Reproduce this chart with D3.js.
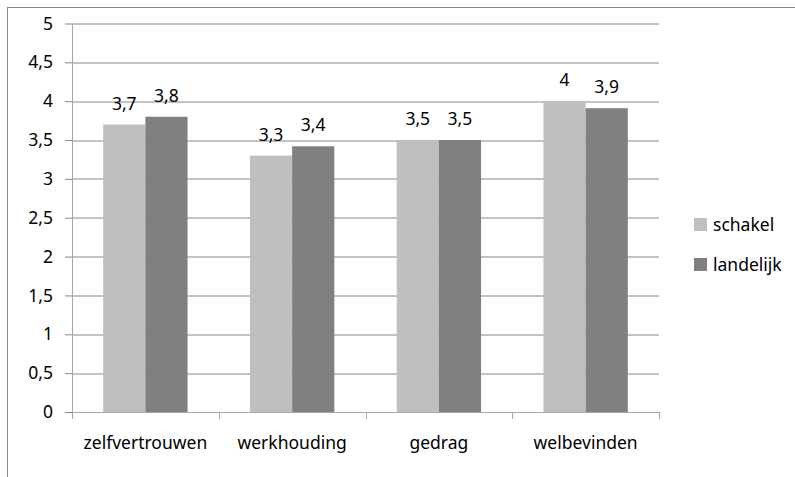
<!DOCTYPE html>
<html>
<head>
<meta charset="utf-8">
<script src="https://cdn.jsdelivr.net/npm/d3@7"></script>
<style>
  body { margin: 0; background: #fff; }
  text { font-family: "Noto Sans", "Open Sans", sans-serif; fill: #000; }
</style>
</head>
<body>
<script>
// data
var categories = ["zelfvertrouwen", "werkhouding", "gedrag", "welbevinden"];
var seriesNames = ["schakel", "landelijk"];
var schakel   = [3.7, 3.3, 3.5, 4.0];
var landelijk = [3.8, 3.42, 3.5, 3.91];
var yTicks = [0, 0.5, 1, 1.5, 2, 2.5, 3, 3.5, 4, 4.5, 5];
var colors = ["#bfbfbf", "#808080"];

var W = 795, H = 477;
var margin = {top: 23.5, left: 72, right: 136, bottom: 65};
var width = W - margin.left - margin.right,
    height = H - margin.top - margin.bottom;
var FS = "17.5px";

var fmt = function(v) { return d3.format(".1~f")(v).replace(".", ","); };

var svg = d3.select("body").append("svg")
    .attr("width", W)
    .attr("height", H);

// outer chart frame
svg.append("rect")
    .attr("x", 7.5).attr("y", 7.5)
    .attr("width", W + 10).attr("height", H + 10)
    .attr("fill", "none")
    .attr("stroke", "#868686");

var g = svg.append("g")
    .attr("transform", "translate(" + margin.left + "," + margin.top + ")");

var x0 = d3.scaleBand()
    .domain(categories)
    .range([0, width]);

var x1 = d3.scaleBand()
    .domain(seriesNames)
    .range([0, x0.bandwidth() * 0.575])
    .paddingInner(0);

var yScale = d3.scaleLinear()
    .domain([0, 5])
    .range([height, 0]);

// gridlines
g.append("g")
    .selectAll("line")
    .data(yTicks.filter(function(d) { return d > 0; }))
    .enter().append("line")
      .attr("x1", 0).attr("x2", width)
      .attr("y1", function(d) { return Math.round(yScale(d)) + 0.5; })
      .attr("y2", function(d) { return Math.round(yScale(d)) + 0.5; })
      .attr("stroke", "#868686");

// y axis
var yAxis = g.append("g")
    .call(d3.axisLeft(yScale).tickValues(yTicks).tickSize(7).tickSizeOuter(0).tickFormat(fmt));
yAxis.select(".domain").attr("stroke", "#a6a6a6");
yAxis.selectAll(".tick line").attr("stroke", "#868686");
yAxis.selectAll(".tick text")
    .attr("x", -19)
    .attr("fill", "#000")
    .style("font-size", FS)
    .style("font-family", "'Noto Sans', sans-serif");

// bars
var offset = (x0.bandwidth() - x1.range()[1]) / 2;
var groups = g.selectAll(".grp")
    .data(categories)
    .enter().append("g")
      .attr("class", "grp")
      .attr("transform", function(d) { return "translate(" + (x0(d) + offset) + ",0)"; });

var rows = function(i) {
  return [{s: "schakel", v: schakel[i]}, {s: "landelijk", v: landelijk[i]}];
};

groups.selectAll("rect")
    .data(function(d, i) { return rows(i); })
    .enter().append("rect")
      .attr("x", function(d) { return x1(d.s); })
      .attr("y", function(d) { return yScale(d.v); })
      .attr("width", x1.bandwidth())
      .attr("height", function(d) { return height - yScale(d.v); })
      .attr("fill", function(d, i) { return colors[i]; });

groups.selectAll(".val")
    .data(function(d, i) { return rows(i); })
    .enter().append("text")
      .attr("class", "val")
      .attr("x", function(d) { return x1(d.s) + x1.bandwidth() / 2; })
      .attr("y", function(d) { return yScale(d.v) - 15; })
      .attr("text-anchor", "middle")
      .style("font-size", FS)
      .text(function(d) { return fmt(Math.round(d.v * 10) / 10); });

// x axis
var xAxis = g.append("g")
    .attr("transform", "translate(0," + height + ")")
    .call(d3.axisBottom(x0).tickSize(0).tickSizeOuter(0));
xAxis.select(".domain").attr("stroke", "#a6a6a6");
xAxis.selectAll(".tick text")
    .attr("dy", 0)
    .attr("y", 37)
    .attr("fill", "#000")
    .style("font-size", FS)
    .style("font-family", "'Noto Sans', sans-serif");

// tick marks on category boundaries
g.append("g")
    .selectAll("line")
    .data(categories.map(function(d) { return x0(d); }).concat([width]))
    .enter().append("line")
      .attr("x1", function(d) { return Math.round(d) + 0.5; })
      .attr("x2", function(d) { return Math.round(d) + 0.5; })
      .attr("y1", height).attr("y2", height + 7)
      .attr("stroke", "#a6a6a6");

// legend
var legend = svg.append("g")
    .attr("transform", "translate(694,218)");
var items = legend.selectAll("g")
    .data(seriesNames)
    .enter().append("g")
      .attr("transform", function(d, i) { return "translate(0," + (i * 40) + ")"; });
items.append("rect")
    .attr("width", 13).attr("height", 13)
    .attr("fill", function(d, i) { return colors[i]; });
items.append("text")
    .attr("x", 19).attr("y", 13)
    .style("font-size", FS)
    .text(function(d) { return d; });
</script>
</body>
</html>
